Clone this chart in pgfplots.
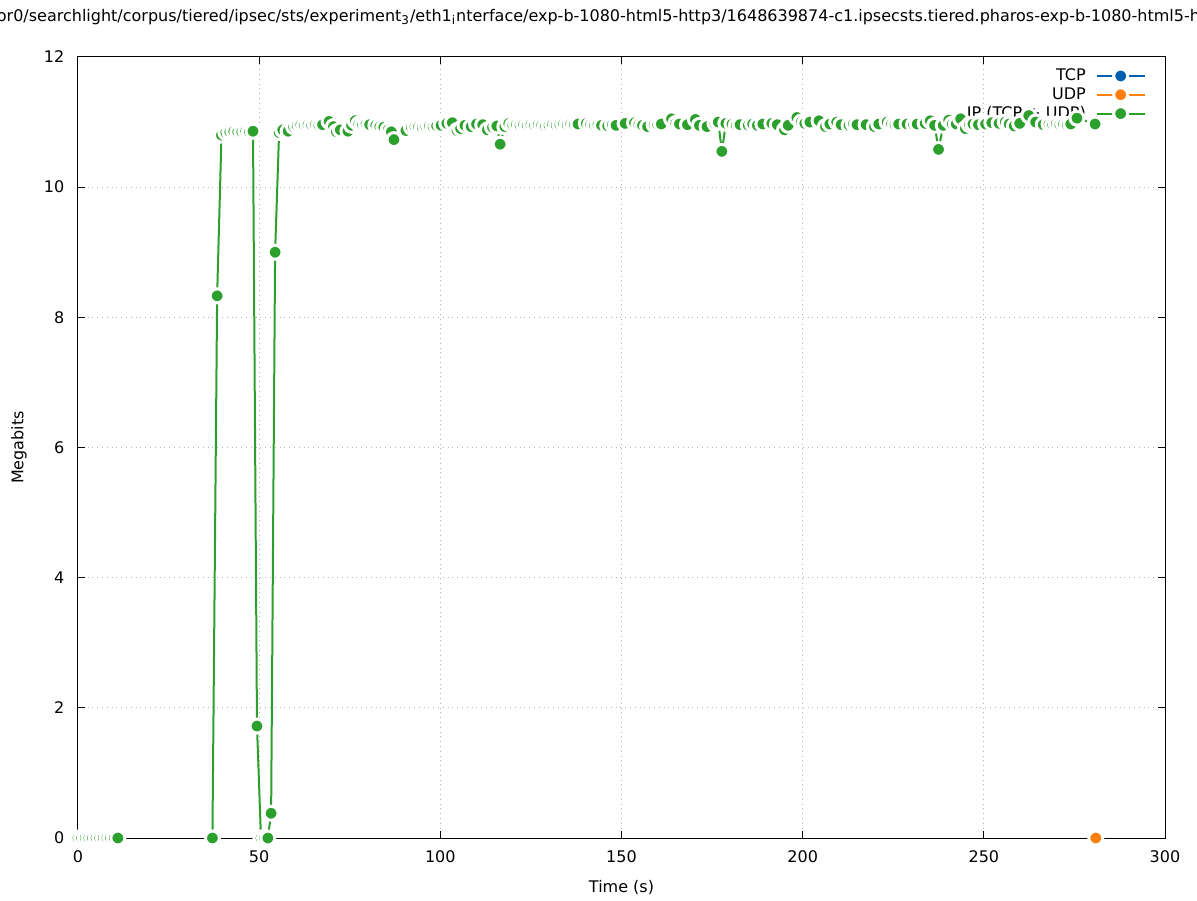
\documentclass[border=0pt]{standalone}
\usepackage{fontspec}
\setmainfont{DejaVu Sans}
\usepackage{pgfplots}
\pgfplotsset{compat=1.18}

\definecolor{tcpblue}{HTML}{0060AD}
\definecolor{udporange}{HTML}{FF7F0E}
\definecolor{ipgreen}{HTML}{2CA02C}

\pgfplotsset{
  pt/.style={line width=1pt, color=#1, mark=*, mark size=3.5pt,
    mark options={fill=#1, draw=white, line width=1.5pt}},
  % same as the standard layer set, but the key sits under the data
  layers/keybehind/.define layer set={
    axis background,axis grid,axis ticks,axis lines,axis tick labels,pre main,main,axis descriptions,axis foreground
  }{
    grid style={/pgfplots/on layer=axis grid},
    tick style={/pgfplots/on layer=axis ticks},
    axis line style={/pgfplots/on layer=axis lines},
    label style={/pgfplots/on layer=axis descriptions},
    legend style={/pgfplots/on layer=pre main},
    title style={/pgfplots/on layer=axis descriptions},
    ticklabel style={/pgfplots/on layer=axis tick labels},
  },
}

\begin{document}
\begin{tikzpicture}
\begin{axis}[
  set layers=keybehind,
  scale only axis,
  width=543.5pt, height=390.5pt,
  xmin=0, xmax=300, ymin=0, ymax=12,
  xtick={0,50,...,300}, ytick={0,2,...,12},
  tick align=inside, major tick length=3.5pt,
  tick style={black, line width=0.5pt},
  axis line style={line width=0.5pt},
  grid=major, grid style={dotted, line width=0.5pt, black!30},
  clip=false,
  font=\fontsize{8}{9.6}\selectfont,
  /pgf/number format/assume math mode=true,
  ticklabel style={font=\fontsize{8}{9.6}\selectfont},
  xticklabel style={yshift=-3pt},
  yticklabel style={xshift=-3.3pt},
  xlabel={Time (s)}, ylabel={Megabits},
  xlabel style={at={(axis description cs:0.5,-0.0627)}, anchor=center},
  ylabel style={at={(axis description cs:-0.0543,0.5)}, anchor=center, rotate=0},
  title={or0/searchlight/corpus/tiered/ipsec/sts/experiment\textsubscript{3}/eth1\textsubscript{i}nterface/exp-b-1080-html5-http3/1648639874-c1.ipsecsts.tiered.pharos-exp-b-1080-html5-h},
  title style={at={(axis description cs:0.4788,1.0359)}, anchor=center, font=\fontsize{8}{9.6}\selectfont},
  legend style={at={(axis description cs:0.988,0.996)}, anchor=north east,
    draw=none, fill=none, legend cell align=right, legend plot pos=right,
    row sep=-2pt, font=\fontsize{8}{9.6}\selectfont,
    /tikz/every odd column/.append style={column sep=3pt}},
  legend image code/.code={\draw[mark repeat=2,mark phase=2] plot coordinates {(0cm,0cm) (0.42cm,0cm) (0.84cm,0cm)};},
]
\addlegendimage{pt=tcpblue}
\addlegendentry{TCP}

\addplot[pt=udporange] coordinates {(280.9,0)};
\addlegendentry{UDP}

% first block of IP samples, no line joins it to the next block
\addplot[pt=ipgreen, forget plot] coordinates {
(0,0)(1,0)(2,0)(3,0)(4,0)(5,0)(6,0)(7,0)(8,0)(9,0)(10,0)(11,0)
};

\addplot[pt=ipgreen] coordinates {
(37.1,0)(38.4,8.33)
(39.6,10.80)(40.8,10.84)(41.9,10.85)(43.0,10.86)(44.1,10.85)(45.2,10.85)(46.3,10.86)(47.3,10.85)
(48.3,10.86)(49.4,1.72)(50.5,0)(51.5,0)(52.4,0)(53.3,0.38)(54.4,9.00)
(55.5,10.84)(56.5,10.88)(58.0,10.86)(59.5,10.93)(60.5,10.95)(61.5,10.96)(62.5,10.95)(63.5,10.96)(64.5,10.95)(65.5,10.96)(66.5,10.95)(67.5,10.96)
(69.3,11.01)(70.5,10.93)(71.3,10.85)(72.4,10.88)(74.5,10.86)(75.5,10.95)(76.5,11.02)(77.5,10.97)(78.5,10.96)(79.5,10.97)(80.5,10.96)(82.2,10.95)(83.3,10.93)(84.4,10.92)(85.6,10.88)(86.5,10.85)(87.2,10.73)
(90.5,10.87)(92.0,10.92)(93.0,10.93)(94.0,10.93)(95.0,10.92)(96.0,10.93)(97.0,10.94)(98.0,10.93)(99.0,10.94)(100.2,10.95)
(101.8,10.98)(103.3,10.99)(104.6,10.87)(105.6,10.90)(106.8,10.95)(108.5,10.93)(110.0,10.97)(111.7,10.96)(113.0,10.88)(114.4,10.92)(115.6,10.94)(116.5,10.66)(117.8,10.93)(118.9,10.98)
(120.0,10.95)(121.0,10.96)(122.0,10.95)(123.0,10.96)(124.0,10.95)(125.0,10.96)(126.0,10.95)(127.0,10.96)(128.0,10.95)(129.0,10.94)(130.0,10.95)(131.0,10.96)(132.0,10.95)(133.0,10.96)(134.0,10.97)(135.0,10.96)(136.0,10.97)(137.0,10.96)(138.0,10.97)
(140.3,10.98)(141.5,10.96)(142.5,10.95)(143.5,10.96)(144.5,10.95)(146.2,10.94)(147.5,10.96)(148.5,10.95)(151.0,10.98)(153.6,10.99)(154.8,10.96)(155.8,10.95)(157.2,10.93)(159.0,10.96)(160.0,10.96)(161.0,10.97)
(163.8,11.05)(165.0,10.98)(166.0,10.97)(168.2,10.96)(170.4,11.04)(171.5,10.95)(173.6,10.93)(175.8,10.98)(176.7,11.00)(177.7,10.55)(178.8,10.98)(180.5,10.97)(181.7,10.95)(182.7,10.96)(185.0,10.95)(186.2,10.97)(187.5,10.95)(189.0,10.97)
(191.5,10.98)(193.0,10.96)(195.0,10.88)(196.0,10.95)(198.4,11.07)(199.6,11.00)(200.6,10.98)(202.0,11.00)(204.5,11.02)(206.3,10.93)(207.5,10.97)(209.4,11.00)(210.6,10.96)(212.8,10.95)(214.0,10.97)(215.0,10.96)(217.5,10.96)(219.8,10.93)(221.0,10.97)(223.3,11.00)(224.5,10.97)(225.5,10.96)(226.5,10.97)(228.8,10.97)(230.6,10.96)(231.6,10.97)(233.8,10.98)(235.2,11.02)(236.4,10.95)(237.5,10.58)
(238.8,10.95)(240.3,11.03)(241.3,10.97)(242.4,10.97)(243.6,11.05)(244.9,10.90)(246.0,10.96)(247.0,10.97)(248.5,10.96)(250.5,10.97)(252.2,10.99)(254.2,10.98)(255.9,11.00)(257.0,10.97)(258.4,10.94)(259.9,10.98)(262.4,11.10)(264.3,11.00)(266.4,10.96)(268.0,10.97)(269.0,10.96)(270.0,10.97)(271.0,10.96)(272.0,10.97)(273.0,10.96)(274.0,10.97)(275.7,11.06)(280.7,10.97)
};
\addlegendentry{IP (TCP + UDP)}

\coordinate (sw) at (rel axis cs:0,0);
\end{axis}
\pgfresetboundingbox
\path[use as bounding box] (sw) ++(-39pt,-31pt) rectangle ++(598.5pt,450pt);
\end{tikzpicture}
\end{document}
